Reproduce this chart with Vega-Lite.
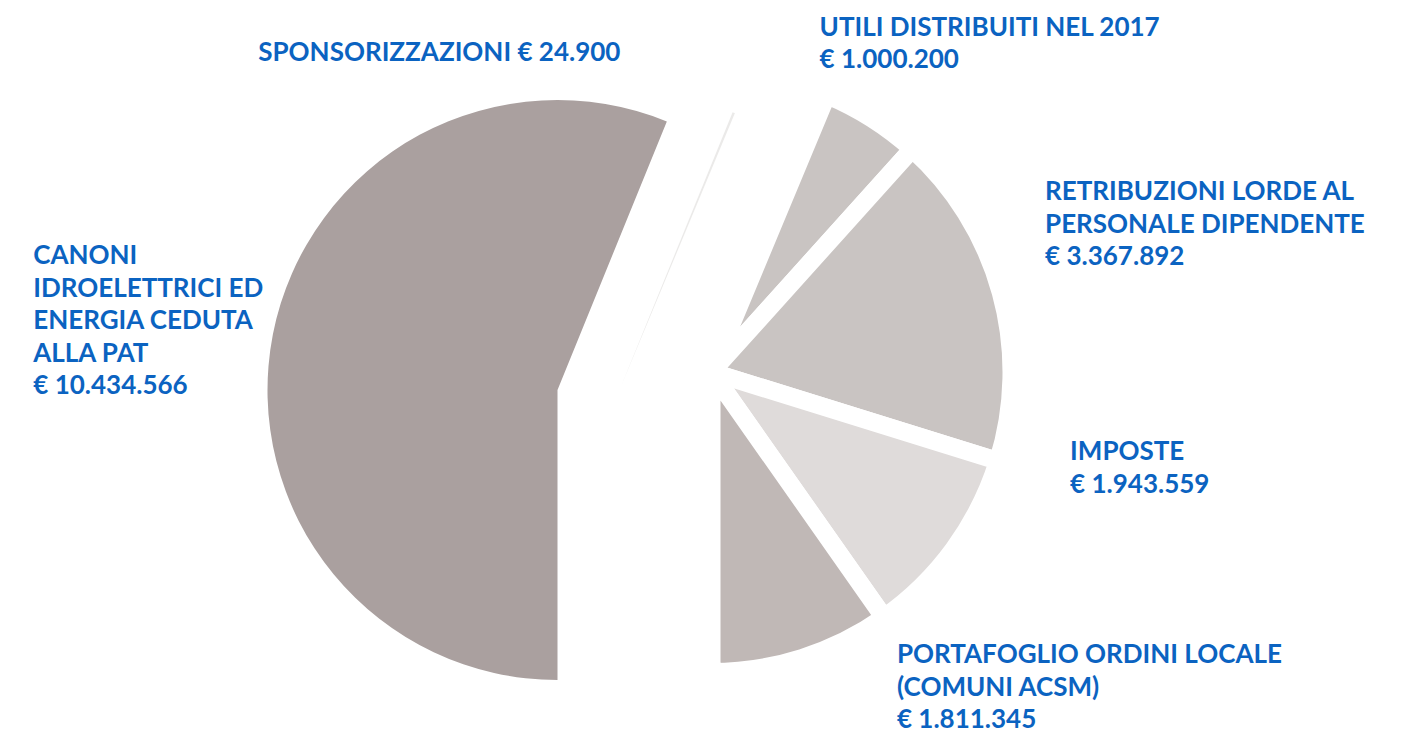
{
  "$schema": "https://vega.github.io/schema/vega-lite/v6.json",
  "width": 1407,
  "height": 736,
  "autosize": "none",
  "padding": 0,
  "background": "white",
  "config": {"view": {"stroke": null}},
  "data": {
    "values": [
      {"voce": "CANONI", "etichetta": "CANONI\nIDROELETTRICI ED\nENERGIA CEDUTA\nALLA PAT\n€ 10.434.566", "valore": 10434566},
      {"voce": "SPONSORIZZAZIONI", "etichetta": "SPONSORIZZAZIONI € 24.900", "valore": 24900},
      {"voce": "UTILI", "etichetta": "UTILI DISTRIBUITI NEL 2017\n€ 1.000.200", "valore": 1000200},
      {"voce": "RETRIBUZIONI", "etichetta": "RETRIBUZIONI LORDE AL\nPERSONALE DIPENDENTE\n€ 3.367.892", "valore": 3367892},
      {"voce": "IMPOSTE", "etichetta": "IMPOSTE\n€ 1.943.559", "valore": 1943559},
      {"voce": "PORTAFOGLIO", "etichetta": "PORTAFOGLIO ORDINI LOCALE\n(COMUNI ACSM)\n€ 1.811.345", "valore": 1811345}
    ]
  },
  "transform": [{"window": [{"op": "row_number", "as": "ordine"}]}],
  "encoding": {
    "theta": {"field": "valore", "type": "quantitative", "stack": true, "scale": {"range": [3.14159265, 9.42477796]}},
    "order": {"field": "ordine", "type": "quantitative"},
    "detail": {"field": "voce", "type": "nominal"}
  },
  "layer": [
    {
      "mark": {"type": "arc", "outerRadius": 300, "xOffset": 8, "yOffset": 4, "stroke": "white", "strokeWidth": 18, "strokeJoin": "round"},
      "encoding": {
        "color": {"field": "voce", "type": "nominal", "legend": null,
          "scale": {"domain": ["CANONI", "SPONSORIZZAZIONI", "UTILI", "RETRIBUZIONI", "IMPOSTE", "PORTAFOGLIO"],
                    "range": ["#aaa09f", "#ebeae9", "#c9c4c2", "#c9c4c2", "#dfdbda", "#c0b8b6"]}},
        "opacity": {"condition": {"test": "indexof(['UTILI','RETRIBUZIONI','IMPOSTE','PORTAFOGLIO'], datum.voce) >= 0", "value": 1}, "value": 0}
      }
    },
    {
      "mark": {"type": "arc", "outerRadius": 290, "xOffset": -146, "yOffset": 22},
      "encoding": {
        "color": {"field": "voce", "type": "nominal", "legend": null},
        "opacity": {"condition": {"test": "datum.voce === 'CANONI'", "value": 1}, "value": 0}
      }
    },
    {
      "mark": {"type": "arc", "outerRadius": 300, "xOffset": -84, "yOffset": 22},
      "encoding": {
        "color": {"field": "voce", "type": "nominal", "legend": null},
        "opacity": {"condition": {"test": "datum.voce === 'SPONSORIZZAZIONI'", "value": 1}, "value": 0}
      }
    },
    {
      "mark": {"type": "text", "radius": 320, "xOffset": 8, "yOffset": 4, "dx": -63, "dy": -74, "align": "left", "baseline": "middle", "font": "Lato", "fontSize": 26, "fontWeight": "bold", "lineHeight": 32.5, "lineBreak": "\n", "color": "#0b63c1"},
      "encoding": {"text": {"condition": {"test": "datum.voce === 'UTILI'", "field": "etichetta", "type": "nominal"}, "value": ""}}
    },
    {
      "mark": {"type": "text", "radius": 320, "xOffset": 8, "yOffset": 4, "dx": 25, "dy": -95, "align": "left", "baseline": "middle", "font": "Lato", "fontSize": 26, "fontWeight": "bold", "lineHeight": 32.5, "lineBreak": "\n", "color": "#0b63c1"},
      "encoding": {"text": {"condition": {"test": "datum.voce === 'RETRIBUZIONI'", "field": "etichetta", "type": "nominal"}, "value": ""}}
    },
    {
      "mark": {"type": "text", "radius": 320, "xOffset": 8, "yOffset": 4, "dx": 100, "dy": -108, "align": "left", "baseline": "middle", "font": "Lato", "fontSize": 26, "fontWeight": "bold", "lineHeight": 32.5, "lineBreak": "\n", "color": "#0b63c1"},
      "encoding": {"text": {"condition": {"test": "datum.voce === 'IMPOSTE'", "field": "etichetta", "type": "nominal"}, "value": ""}}
    },
    {
      "mark": {"type": "text", "radius": 320, "xOffset": 8, "yOffset": 4, "dx": 89, "dy": -22, "align": "left", "baseline": "middle", "font": "Lato", "fontSize": 26, "fontWeight": "bold", "lineHeight": 32.5, "lineBreak": "\n", "color": "#0b63c1"},
      "encoding": {"text": {"condition": {"test": "datum.voce === 'PORTAFOGLIO'", "field": "etichetta", "type": "nominal"}, "value": ""}}
    },
    {
      "mark": {"type": "text", "radius": 525, "xOffset": -146, "yOffset": 22, "dx": -9, "dy": -33, "align": "left", "baseline": "middle", "font": "Lato", "fontSize": 26, "fontWeight": "bold", "lineHeight": 32.5, "lineBreak": "\n", "color": "#0b63c1"},
      "encoding": {"text": {"condition": {"test": "datum.voce === 'CANONI'", "field": "etichetta", "type": "nominal"}, "value": ""}}
    },
    {
      "mark": {"type": "text", "radius": 320, "xOffset": -84, "yOffset": 22, "dx": -121, "dy": -41, "align": "right", "baseline": "middle", "font": "Lato", "fontSize": 26, "fontWeight": "bold", "lineHeight": 32.5, "lineBreak": "\n", "color": "#0b63c1"},
      "encoding": {"text": {"condition": {"test": "datum.voce === 'SPONSORIZZAZIONI'", "field": "etichetta", "type": "nominal"}, "value": ""}}
    }
  ]
}
